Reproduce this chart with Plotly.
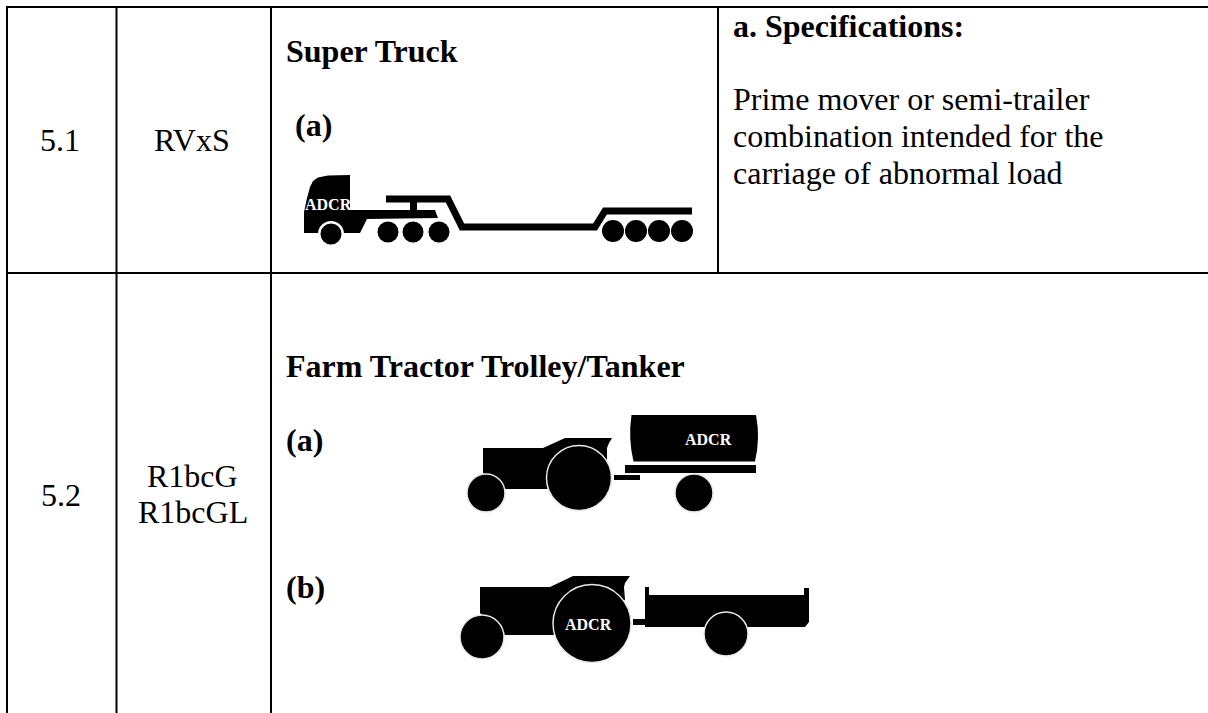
import plotly.graph_objects as go

# ---- table content -------------------------------------------------------
W, H = 1208, 713
grid_v_x = [7, 116.5, 271, 718]
grid_v_bottom = [713, 713, 713, 273]
grid_h_y = [7, 273]
table_top = 6

plain_text = ["5.1", "RVxS", "5.2", "R1bcG", "R1bcGL"]
plain_x = [60, 192, 61, 192.5, 192.5]
plain_base = [150.7, 150.7, 505, 486, 522.6]

left_bold = ["Super Truck", "(a)", "Farm Tractor Trolley/Tanker", "(a)", "(b)", "a. Specifications:"]
left_bold_x = [285, 294, 285, 285, 285, 732]
left_bold_base = [61.7, 135, 376.7, 450.5, 597, 36]

left_plain = ["Prime mover or semi-trailer", "combination intended for the", "carriage of abnormal load"]
left_plain_x = [732, 732, 732]
left_plain_base = [109, 146, 183]

badge_x = [328, 708, 588]
badge_y = [204, 439, 624]
badge_text = ["ADCR", "ADCR", "ADCR"]
badge_size = 16

# ---- vehicle outlines -----------------------------------------------------
truck_cab = [(304, 233), (304, 212), (307, 198), (310, 187), (313, 181), (318, 177.5), (328, 175.5), (350, 175),
             (350, 210), (435, 210), (438, 218), (367, 219), (360, 233)]
truck_deck = [(386, 199), (448, 199), (462, 227), (595, 227), (605, 211), (692, 211)]
truck_kingpin = [(410, 200), (417, 200), (417, 211), (410, 211)]
truck_wheels_x = [388, 413, 439, 613, 636, 659, 682]
truck_wheels_y = [232, 232, 232, 231, 231, 231, 231]
truck_wheels_r = [10.5, 10.5, 10.5, 11, 11, 11, 11]
truck_front = (331, 234, 10.5)

tractor_a = [(483, 448), (543, 448), (565, 438), (612, 438), (609, 443), (607, 448), (607, 460),
             (547, 489), (505, 489), (483, 473)]
tank_a = "M 631.5,415 Q 628,438 633.5,461.5 L 755,461.5 Q 760.5,438 756,415 Z"
platform_a = [(625, 465), (756, 465), (756, 473), (625, 473)]
coupling_a = [(614, 475), (640, 475), (640, 480), (614, 480)]
wheels_a_x = [486, 694, 579]
wheels_a_y = [493, 493, 478]
wheels_a_r = [19, 19, 32.5]

tractor_b = [(480, 587), (550, 587), (573, 576), (630, 576), (625, 583), (624, 587), (625, 600),
             (553, 635), (505, 635), (480, 613)]
trailer_b = [(645, 587), (649, 587), (649, 595), (804, 595), (804, 588), (809, 588),
             (809, 622), (805, 627), (645, 627)]
coupling_b = [(633, 619), (645, 619), (645, 625), (633, 625)]
wheels_b_x = [482, 726, 592]
wheels_b_y = [637, 634, 623.5]
wheels_b_r = [22, 22, 39]

# ---- figure ---------------------------------------------------------------
def poly(pts):
    return "M " + " L ".join(f"{x},{y}" for x, y in pts) + " Z"

shapes = []
def fill_path(path):
    shapes.append(dict(type="path", path=path, fillcolor="black", line=dict(width=0), layer="above"))

def wheel(cx, cy, r, ring=1.5):
    shapes.append(dict(type="circle", x0=cx - r, x1=cx + r, y0=cy - r, y1=cy + r,
                       fillcolor="black", line=dict(color="#e8e8e8", width=ring), layer="above"))

for x, b in zip(grid_v_x, grid_v_bottom):
    shapes.append(dict(type="line", x0=x, x1=x, y0=table_top, y1=b, line=dict(color="black", width=2)))
for y in grid_h_y:
    shapes.append(dict(type="line", x0=grid_v_x[0] - 1, x1=W, y0=y, y1=y, line=dict(color="black", width=2)))

# super truck
fill_path(poly(truck_cab))
fill_path(poly(truck_kingpin))
shapes.append(dict(type="path", path="M " + " L ".join(f"{x},{y}" for x, y in truck_deck),
                   line=dict(color="black", width=7), layer="above"))
for cx, cy, r in zip(truck_wheels_x, truck_wheels_y, truck_wheels_r):
    wheel(cx, cy, r, ring=0)
# white arch around the front truck wheel
shapes.append(dict(type="circle", x0=truck_front[0] - 13, x1=truck_front[0] + 13,
                   y0=truck_front[1] - 13, y1=truck_front[1] + 13, fillcolor="white", line=dict(width=0), layer="above"))
wheel(truck_front[0], truck_front[1], truck_front[2], ring=0)

# tractor a
fill_path(poly(tractor_a))
fill_path(tank_a)
fill_path(poly(platform_a))
fill_path(poly(coupling_a))
for cx, cy, r in zip(wheels_a_x, wheels_a_y, wheels_a_r):
    wheel(cx, cy, r)

# tractor b
fill_path(poly(tractor_b))
fill_path(poly(trailer_b))
fill_path(poly(coupling_b))
for cx, cy, r in zip(wheels_b_x, wheels_b_y, wheels_b_r):
    wheel(cx, cy, r)

SERIF = "Liberation Serif"
SIZE = 32
OFF = 10.5  # baseline to text middle

annotations = []
def label(text, x, base, anchor, bold=False):
    annotations.append(dict(x=x, y=base - OFF, text=f"<b>{text}</b>" if bold else text,
                            xanchor=anchor, yanchor="middle", showarrow=False,
                            font=dict(family=SERIF, size=SIZE, color="black"),
                            xref="x", yref="y", borderpad=0))

for t, x, b in zip(plain_text, plain_x, plain_base):
    label(t, x, b, "center")
for t, x, b in zip(left_bold, left_bold_x, left_bold_base):
    label(t, x, b, "left", bold=True)
for t, x, b in zip(left_plain, left_plain_x, left_plain_base):
    label(t, x, b, "left")
for t, x, y in zip(badge_text, badge_x, badge_y):
    annotations.append(dict(x=x, y=y, text=f"<b>{t}</b>", xanchor="center", yanchor="middle", showarrow=False,
                            font=dict(family=SERIF, size=badge_size, color="white"), xref="x", yref="y", borderpad=0))

fig = go.Figure()
fig.add_trace(go.Scatter(x=[0, W], y=[0, H], mode="markers", marker=dict(opacity=0), hoverinfo="skip", showlegend=False))
fig.update_layout(width=W, height=H, margin=dict(l=0, r=0, t=0, b=0), paper_bgcolor="white", plot_bgcolor="white",
                  xaxis=dict(range=[0, W], visible=False, fixedrange=True),
                  yaxis=dict(range=[H, 0], visible=False, fixedrange=True),
                  shapes=shapes, annotations=annotations, showlegend=False)
fig.write_html("out.html", config=dict(displayModeBar=False),
               post_script="document.body.style.margin='0';document.body.style.overflow='hidden';")
